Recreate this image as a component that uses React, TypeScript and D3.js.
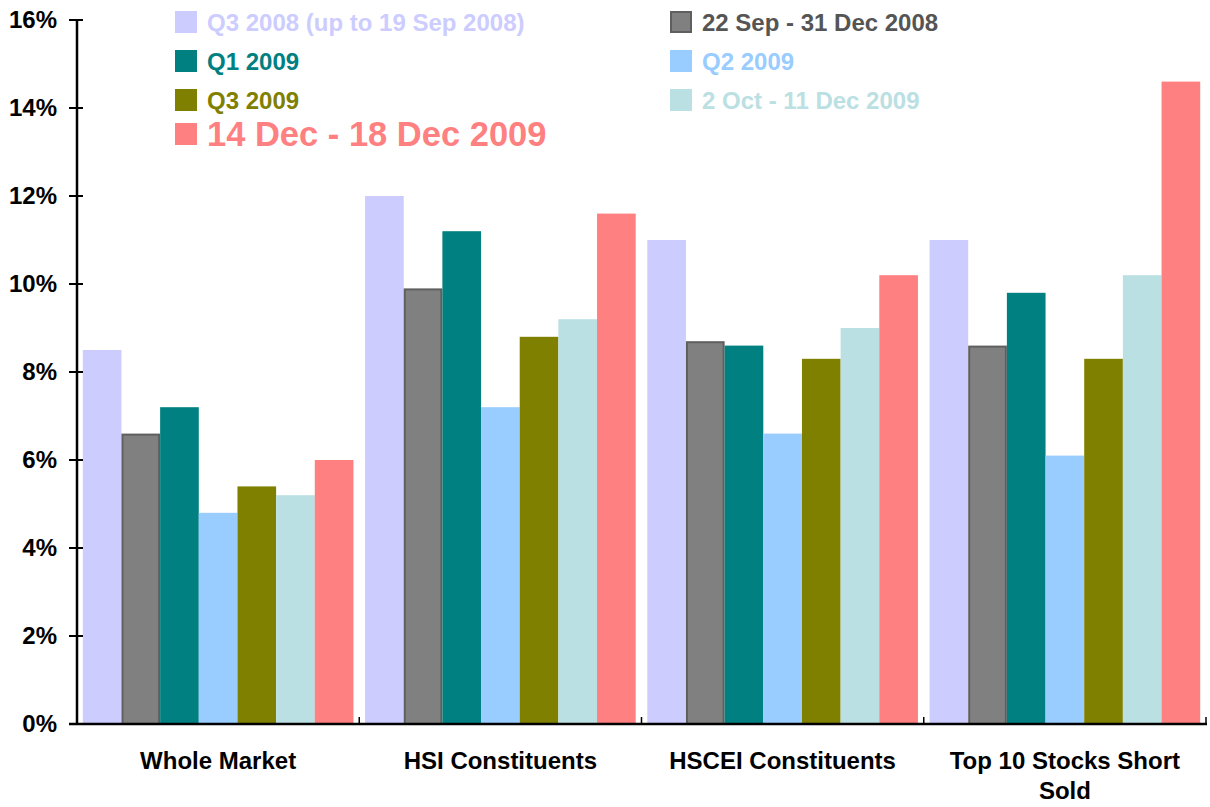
import React, { useRef, useEffect } from "react";
import * as d3 from "d3";

const categories = ["Whole Market", "HSI Constituents", "HSCEI Constituents", "Top 10 Stocks Short Sold"];
const seriesNames = [
    "Q3 2008 (up to 19 Sep 2008)",
    "22 Sep - 31 Dec 2008",
    "Q1 2009",
    "Q2 2009",
    "Q3 2009",
    "2 Oct - 11 Dec 2009",
    "14 Dec - 18 Dec 2009",
];
const seriesValues = [
    [8.5, 12.0, 11.0, 11.0],
    [6.6, 9.9, 8.7, 8.6],
    [7.2, 11.2, 8.6, 9.8],
    [4.8, 7.2, 6.6, 6.1],
    [5.4, 8.8, 8.3, 8.3],
    [5.2, 9.2, 9.0, 10.2],
    [6.0, 11.6, 10.2, 14.6],
];
const colors = ["#CCCCFF", "#808080", "#008080", "#99CCFF", "#808000", "#BBE0E3", "#FF8080"];
const textColors = ["#CCCCFF", "#555555", "#008080", "#99CCFF", "#808000", "#BBE0E3", "#FF8080"];
const yTicks = [0, 2, 4, 6, 8, 10, 12, 14, 16];

const W = 1210;
const H = 807;
const FONT = "'Liberation Sans', Arial, sans-serif";

const App: React.FC = () => {
    const svgRef = useRef<SVGSVGElement | null>(null);

    useEffect(() => {
        if (!svgRef.current) return;
        const svg = d3.select(svgRef.current);
        svg.selectAll("*").remove();

        const left = 77;
        const right = 1206;
        const top = 20;
        const bottom = 724;

        const y = d3.scaleLinear().domain([0, 16]).range([bottom, top]);
        const x0 = d3.scaleBand<string>().domain(categories).range([left, right]).padding(0);
        const x1 = d3
            .scaleBand<number>()
            .domain(d3.range(seriesNames.length))
            .range([0, x0.bandwidth()])
            .paddingInner(0)
            .paddingOuter(0.15);

        // bars
        categories.forEach((cat, ci) => {
            const g = svg.append("g").attr("transform", `translate(${x0(cat)},0)`);
            seriesValues.forEach((vals, si) => {
                const v = vals[ci];
                const isGrey = si === 1;
                g.append("rect")
                    .attr("x", (x1(si) as number) + (isGrey ? 1 : 0))
                    .attr("y", y(v) + (isGrey ? 1 : 0))
                    .attr("width", x1.bandwidth() - (isGrey ? 2 : 0))
                    .attr("height", bottom - y(v) - (isGrey ? 1 : 0))
                    .attr("fill", colors[si])
                    .attr("stroke", isGrey ? "#5f5f5f" : "none")
                    .attr("stroke-width", isGrey ? 2 : 0);
            });
        });

        // y axis
        svg.append("line")
            .attr("x1", left).attr("x2", left)
            .attr("y1", top).attr("y2", bottom + 1)
            .attr("stroke", "#000").attr("stroke-width", 2.5);
        yTicks.forEach((t) => {
            svg.append("line")
                .attr("x1", left - 8).attr("x2", left + 6)
                .attr("y1", y(t)).attr("y2", y(t))
                .attr("stroke", "#000").attr("stroke-width", 2);
            svg.append("text")
                .attr("x", 57)
                .attr("y", y(t))
                .attr("dy", "0.33em")
                .attr("text-anchor", "end")
                .style("font-family", FONT)
                .style("font-weight", "bold")
                .style("font-size", "24px")
                .text(`${t}%`);
        });

        // x axis
        svg.append("line")
            .attr("x1", left - 8).attr("x2", right + 1)
            .attr("y1", bottom).attr("y2", bottom)
            .attr("stroke", "#000").attr("stroke-width", 2.5);
        categories.forEach((cat, ci) => {
            const xb = (x0(cat) as number) + x0.bandwidth();
            svg.append("line")
                .attr("x1", xb).attr("x2", xb)
                .attr("y1", bottom).attr("y2", bottom - 7)
                .attr("stroke", "#000").attr("stroke-width", 1.5);
            const cx = (x0(cat) as number) + x0.bandwidth() / 2;
            const lines = ci === 3 ? ["Top 10 Stocks Short", "Sold"] : [cat];
            lines.forEach((ln, li) => {
                svg.append("text")
                    .attr("x", cx)
                    .attr("y", 769 + li * 30)
                    .attr("text-anchor", "middle")
                    .style("font-family", FONT)
                    .style("font-weight", "bold")
                    .style("font-size", "24px")
                    .text(ln);
            });
        });

        // legend
        const legendPos = [
            { x: 175, y: 22, size: 24 },
            { x: 670, y: 22, size: 24 },
            { x: 175, y: 61, size: 24 },
            { x: 670, y: 61, size: 24 },
            { x: 175, y: 100, size: 24 },
            { x: 670, y: 100, size: 24 },
            { x: 175, y: 134, size: 34.5 },
        ];
        seriesNames.forEach((name, si) => {
            const p = legendPos[si];
            const isGrey = si === 1;
            svg.append("rect")
                .attr("x", p.x + (isGrey ? 1 : 0))
                .attr("y", p.y - 11 + (isGrey ? 1 : 0))
                .attr("width", 22 - (isGrey ? 2 : 0))
                .attr("height", 22 - (isGrey ? 2 : 0))
                .attr("fill", colors[si])
                .attr("stroke", isGrey ? "#5f5f5f" : "none")
                .attr("stroke-width", isGrey ? 2 : 0);
            svg.append("text")
                .attr("x", p.x + 32)
                .attr("y", p.y)
                .attr("dy", "0.36em")
                .style("font-family", FONT)
                .style("font-weight", "bold")
                .style("font-size", `${p.size}px`)
                .attr("fill", textColors[si])
                .text(name);
        });
    }, []);

    return (
        <svg
            ref={svgRef}
            width={W}
            height={H}
            style={{ position: "absolute", left: 0, top: 0, background: "#fff" }}
        />
    );
};

export default App;
